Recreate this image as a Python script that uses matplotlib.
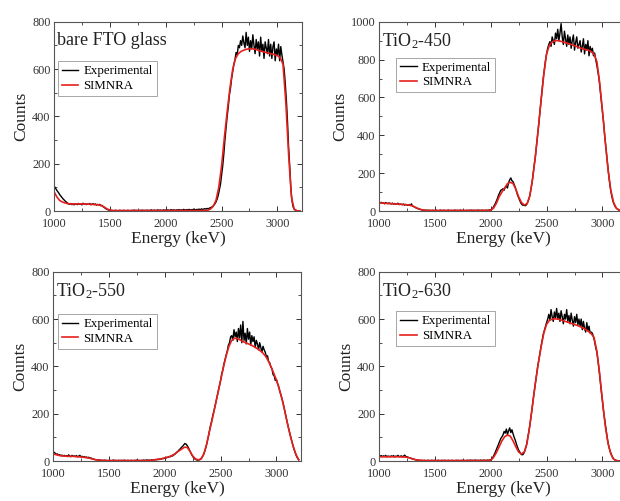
import numpy as np
import matplotlib
matplotlib.use("Agg")
import matplotlib.pyplot as plt
from matplotlib.ticker import MultipleLocator

plt.rcParams['font.family'] = ['Liberation Serif', 'DejaVu Serif']
plt.rcParams['mathtext.default'] = 'regular'

# canales del espectro RBS (10 keV) y curva simulada (25 keV)
E_exp = np.arange(1000, 3201, 10)
E_sim = np.arange(1000, 3201, 25)

# ---- bare FTO glass ----
fto_exp = [
    108, 98, 92, 84, 78, 70, 64, 58, 52, 47,
    42, 38, 34, 30, 28, 32, 27, 30, 26, 31,
    29, 27, 32, 28, 30, 26, 33, 29, 31, 27,
    30, 28, 32, 26, 29, 31, 27, 30, 25, 28,
    26, 28, 22, 24, 18, 15, 11, 8, 6, 4,
    3, 2, 3, 1, 2, 3, 2, 1, 2, 3,
    2, 1, 3, 2, 2, 1, 3, 2, 1, 2,
    3, 2, 4, 2, 3, 1, 2, 3, 2, 4,
    2, 3, 1, 4, 2, 3, 2, 5, 3, 2,
    4, 2, 3, 5, 2, 4, 3, 2, 5, 3,
    4, 3, 5, 2, 4, 6, 3, 5, 4, 3,
    5, 4, 6, 3, 5, 4, 7, 5, 4, 6,
    5, 7, 4, 6, 5, 8, 6, 5, 7, 6,
    8, 6, 9, 7, 8, 10, 8, 11, 9, 12,
    14, 16, 19, 24, 30, 38, 50, 66, 88, 112,
    150, 190, 240, 300, 350, 400, 440, 490, 520, 560,
    590, 620, 640, 670, 660, 700, 690, 720, 700, 740,
    710, 690, 755, 700, 735, 675, 720, 685, 745, 700,
    665, 725, 685, 715, 655, 735, 675, 705, 645, 715,
    690, 665, 725, 655, 705, 645, 695, 715, 635, 685,
    660, 705, 635, 695, 660, 630, 600, 540, 470, 380,
    270, 190, 100, 45, 18, 8, 4, 2, 1, 1,
    0]
fto_sim = [
    82, 60, 45, 38, 34, 31, 30, 30, 30, 30, 30, 30, 29, 29, 28, 27,
    26, 23, 17, 9, 4, 2, 2, 2, 2, 2, 2, 2, 2, 2, 2, 2,
    2, 2, 2, 2, 2, 2, 2, 2, 2, 2, 2, 2, 2, 2, 2, 2,
    2, 2, 2, 2, 2, 2, 2, 3, 8, 20, 45, 100, 190, 310,
    420, 520, 600, 645, 665, 675, 680, 684, 686, 686, 684, 680, 676, 673,
    670, 667, 664, 661, 657, 648, 620, 460, 240, 60, 8, 1, 0]

# ---- TiO2-450 ----
t450_exp = [
    48, 42, 46, 40, 44, 38, 45, 41, 39, 43,
    40, 37, 42, 36, 40, 35, 38, 41, 34, 37,
    36, 33, 37, 31, 35, 32, 30, 34, 29, 38,
    26, 24, 20, 17, 14, 12, 10, 8, 7, 5,
    5, 4, 3, 5, 2, 4, 3, 2, 4, 3,
    2, 4, 3, 1, 3, 5, 2, 3, 4, 2,
    3, 2, 5, 3, 1, 4, 2, 3, 5, 2,
    4, 2, 3, 5, 2, 3, 4, 1, 3, 4,
    2, 4, 3, 5, 2, 4, 3, 2, 5, 3,
    4, 2, 5, 3, 4, 2, 5, 3, 4, 6,
    6, 10, 16, 28, 38, 52, 66, 84, 96, 110,
    112, 118, 110, 125, 130, 122, 150, 165, 175, 160,
    155, 140, 125, 105, 85, 70, 55, 42, 34, 30,
    30, 28, 33, 45, 60, 82, 115, 150, 200, 245,
    290, 345, 400, 460, 520, 580, 640, 700, 750, 795,
    830, 860, 880, 895, 870, 920, 900, 880, 940, 910,
    960, 900, 940, 990, 920, 880, 950, 910, 870, 930,
    880, 920, 860, 900, 930, 850, 890, 920, 860, 880,
    900, 840, 870, 910, 830, 880, 850, 900, 820, 870,
    840, 860, 820, 835, 800, 770, 735, 695, 640, 585,
    525, 470, 400, 340, 280, 225, 170, 125, 90, 62,
    42, 28, 18, 12, 8, 5, 3, 2, 1, 1,
    0]
t450_sim = [
    44, 42, 41, 40, 39, 38, 37, 36, 35, 34, 33, 31, 27, 20, 13, 8,
    5, 3, 3, 3, 3, 3, 3, 3, 3, 3, 3, 3, 3, 3, 3, 3,
    3, 3, 3, 3, 3, 3, 3, 3, 5, 15, 40, 75, 100, 122, 145, 152,
    145, 115, 75, 45, 32, 38, 80, 170, 290, 430, 580, 720, 830, 875,
    893, 900, 900, 897, 893, 888, 884, 879, 874, 868, 862, 857, 853, 850,
    842, 828, 790, 680, 530, 370, 220, 110, 45, 15, 5, 2, 0]

# ---- TiO2-550 ----
t550_exp = [
    42, 36, 33, 28, 30, 24, 27, 22, 25, 21,
    24, 20, 23, 19, 26, 21, 18, 24, 20, 22,
    19, 23, 17, 21, 24, 18, 20, 16, 19, 15,
    17, 14, 16, 12, 13, 10, 9, 7, 6, 5,
    4, 5, 3, 4, 2, 3, 4, 2, 3, 1,
    2, 3, 1, 2, 4, 2, 3, 1, 2, 3,
    1, 3, 2, 2, 4, 1, 2, 3, 2, 1,
    3, 2, 1, 3, 2, 4, 2, 3, 1, 3,
    2, 4, 3, 2, 5, 3, 4, 2, 5, 4,
    5, 4, 7, 5, 8, 6, 9, 8, 11, 10,
    13, 12, 16, 15, 19, 18, 22, 21, 26, 28,
    34, 38, 42, 48, 52, 58, 62, 68, 74, 72,
    66, 58, 48, 38, 28, 20, 13, 9, 6, 4,
    4, 5, 8, 13, 20, 30, 44, 60, 80, 102,
    125, 150, 168, 192, 210, 232, 255, 275, 300, 318,
    340, 368, 385, 410, 430, 448, 465, 490, 500, 525,
    530, 510, 555, 525, 545, 505, 560, 520, 575, 500,
    590, 510, 540, 495, 560, 515, 545, 490, 530, 505,
    525, 480, 510, 495, 470, 500, 480, 460, 485, 470,
    460, 440, 445, 420, 415, 398, 390, 365, 360, 340,
    345, 328, 315, 295, 280, 262, 245, 222, 200, 178,
    156, 136, 116, 98, 80, 62, 46, 32, 20, 11,
    5]
t550_sim = [
    30, 27, 24, 22, 21, 20, 20, 20, 19, 18, 17, 16, 14, 12, 9, 6,
    4, 3, 2, 2, 2, 2, 2, 2, 2, 2, 2, 2, 2, 2, 2, 2,
    2, 2, 2, 3, 4, 6, 8, 10, 13, 16, 20, 26, 33, 42, 50, 58,
    58, 42, 22, 9, 5, 8, 30, 70, 125, 175, 230, 285, 340, 395,
    445, 485, 510, 519, 518, 512, 505, 500, 495, 490, 483, 476, 468, 458,
    445, 425, 400, 372, 342, 305, 262, 210, 155, 105, 62, 28, 5]

# ---- TiO2-630 ----
t630_exp = [
    26, 20, 23, 18, 22, 19, 24, 17, 21, 20,
    18, 22, 19, 23, 17, 21, 19, 24, 18, 20,
    22, 18, 21, 25, 19, 18, 16, 14, 13, 11,
    9, 8, 6, 5, 4, 4, 3, 2, 3, 2,
    2, 3, 1, 2, 3, 2, 1, 3, 2, 2,
    3, 1, 2, 3, 2, 1, 3, 2, 2, 3,
    2, 1, 3, 2, 1, 3, 2, 2, 1, 3,
    2, 3, 1, 2, 3, 2, 3, 1, 2, 3,
    3, 2, 4, 2, 3, 2, 4, 3, 2, 3,
    2, 4, 3, 2, 4, 3, 2, 4, 3, 4,
    5, 9, 16, 26, 36, 48, 60, 72, 84, 95,
    102, 110, 125, 118, 135, 112, 128, 140, 120, 132,
    115, 100, 88, 72, 58, 46, 38, 30, 26, 28,
    36, 50, 66, 95, 120, 150, 185, 220, 260, 295,
    330, 362, 398, 425, 455, 482, 508, 535, 552, 568,
    585, 600, 620, 595, 640, 610, 590, 630, 605, 645,
    600, 625, 590, 635, 610, 580, 620, 600, 640, 590,
    615, 580, 625, 595, 570, 610, 585, 620, 575, 600,
    570, 600, 555, 590, 560, 545, 585, 550, 570, 540,
    545, 540, 525, 505, 480, 460, 425, 385, 340, 295,
    255, 210, 175, 140, 108, 78, 56, 40, 28, 16,
    9, 5, 3, 2, 1, 1, 0, 1, 0, 0,
    0]
t630_sim = [
    18, 18, 18, 18, 18, 18, 18, 18, 17, 17, 16, 13, 9, 6, 4, 3,
    2, 2, 2, 2, 2, 2, 2, 2, 2, 2, 2, 2, 2, 2, 2, 2,
    2, 2, 2, 2, 2, 2, 2, 2, 4, 15, 35, 60, 85, 103, 110, 105,
    85, 60, 38, 30, 38, 75, 150, 240, 330, 410, 480, 540, 578, 594,
    600, 601, 600, 597, 593, 589, 585, 581, 577, 573, 568, 563, 556, 548,
    538, 522, 465, 370, 255, 150, 75, 30, 8, 2, 0, 0, 0]

paneles = [
    ('bare FTO glass', fto_exp, fto_sim, 800, [0.0871, 0.5788], (0.015, 0.79)),
    ('TiO$_2$-450', t450_exp, t450_sim, 1000, [0.6113, 0.5788], (0.068, 0.81)),
    ('TiO$_2$-550', t550_exp, t550_sim, 800, [0.0855, 0.0798], (0.019, 0.775)),
    ('TiO$_2$-630', t630_exp, t630_sim, 800, [0.6113, 0.0798], (0.068, 0.79)),
]

fig = plt.figure(figsize=(6.2, 5.01), dpi=100)

for nombre, exp, sim, ymax, pos, leg_pos in paneles:
    ax = fig.add_axes([pos[0], pos[1], 0.4, 0.3778])
    ax.plot(E_exp, exp, color='black', lw=1.0, label='Experimental')
    ax.plot(E_sim, sim, color='#e8201c', lw=1.2, label='SIMNRA')
    ax.set_xlim(1000, 3220)
    ax.set_ylim(0, ymax)
    ax.xaxis.set_major_locator(MultipleLocator(500))
    ax.xaxis.set_minor_locator(MultipleLocator(250))
    ax.yaxis.set_major_locator(MultipleLocator(200))
    ax.yaxis.set_minor_locator(MultipleLocator(100))
    ax.tick_params(which='both', direction='in', top=True, right=True,
                   colors='#333333', labelsize=8.8)
    ax.tick_params(axis='x', pad=5)
    ax.tick_params(axis='y', pad=2.5)
    ax.tick_params(which='major', length=3.5, width=0.7)
    ax.tick_params(which='minor', length=2, width=0.6)
    for sp in ax.spines.values():
        sp.set_color('#555555')
        sp.set_linewidth(0.8)
    ax.set_xlabel('Energy (keV)', fontsize=12.5, color='#222222', labelpad=0.5)
    ax.set_ylabel('Counts', fontsize=12.5, color='#222222', labelpad=2)
    ax.text(0.012, 0.9, nombre, transform=ax.transAxes, fontsize=13,
            color='#222222', va='center', ha='left')
    leg = ax.legend(loc='upper left', bbox_to_anchor=leg_pos, fontsize=9.3,
                    frameon=True, fancybox=False, framealpha=1,
                    edgecolor='#999999', handlelength=1.3, handletextpad=0.4,
                    labelspacing=0.2, borderpad=0.3, borderaxespad=0)
    leg.get_frame().set_linewidth(0.6)

fig.savefig('out.png', dpi=100)
